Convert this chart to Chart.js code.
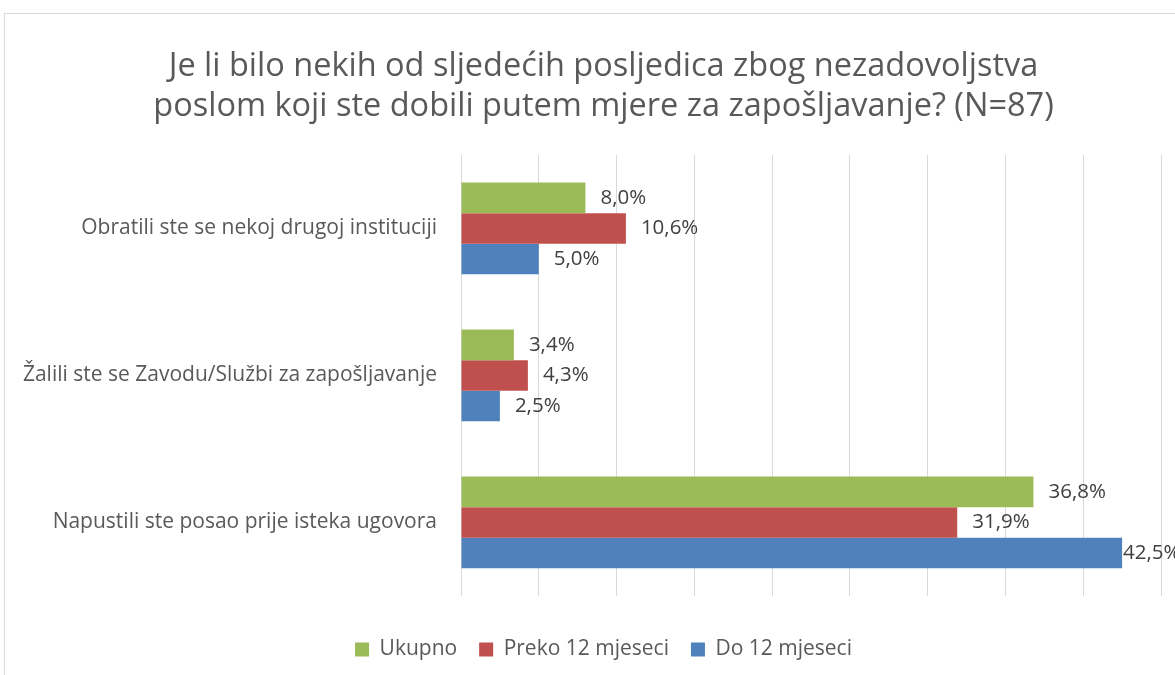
<!DOCTYPE html>
<html>
<head>
<meta charset="utf-8">
<script src="https://cdn.jsdelivr.net/npm/chart.js@4.4.1/dist/chart.umd.min.js"></script>
<style>
html,body{margin:0;padding:0;background:#fff;}
#wrap{width:1175px;height:675px;position:relative;}
</style>
</head>
<body>
<div id="wrap"><canvas id="c" width="1175" height="675"></canvas></div>
<script>
const titleLines = ["Je li bilo nekih od sljedećih posljedica zbog nezadovoljstva", "poslom koji ste dobili putem mjere za zapošljavanje? (N=87)"];
const categories = ["Obratili ste se nekoj drugoj instituciji", "Žalili ste se Zavodu/Službi za zapošljavanje", "Napustili ste posao prije isteka ugovora"];
const seriesNames = ["Ukupno", "Preko 12 mjeseci", "Do 12 mjeseci"];
const ukupno = [8.0, 3.4, 36.8];
const preko12 = [10.6, 4.3, 31.9];
const do12 = [5.0, 2.5, 42.5];
const colors = ["#9BBB59", "#C0504D", "#4F81BD"];

const FONT = "'Open Sans', 'Liberation Sans', sans-serif";
const TEXT = "#595959";

const frame = {
  id: 'frame',
  afterLayout(chart) {
    // centre title and legend on the full chart frame
    const shift = 23;
    [chart.legend, chart.titleBlock].forEach(b => {
      if (b) { b.left += shift; b.right += shift; }
    });
  },
  beforeDraw(chart) {
    const ctx = chart.ctx;
    ctx.save();
    ctx.fillStyle = '#fff';
    ctx.fillRect(0, 0, chart.width, chart.height);
    ctx.strokeStyle = '#D9D9D9';
    ctx.lineWidth = 1;
    ctx.strokeRect(4.5, 13.5, 1300, 800);
    ctx.restore();
  }
};

const valueLabels = {
  id: 'valueLabels',
  afterDatasetsDraw(chart) {
    const ctx = chart.ctx;
    ctx.save();
    ctx.font = "20.5px " + FONT;
    ctx.fillStyle = "#404040";
    ctx.textBaseline = 'middle';
    ctx.textAlign = 'left';
    chart.data.datasets.forEach((ds, i) => {
      const meta = chart.getDatasetMeta(i);
      meta.data.forEach((bar, j) => {
        const txt = ds.data[j].toFixed(1).replace('.', ',') + '%';
        const w = ctx.measureText(txt).width;
        let x = bar.x + 15;
        if (x + w > chart.width) x = bar.x + 1;
        ctx.fillText(txt, x, bar.y);
      });
    });
    ctx.restore();
  }
};

new Chart(document.getElementById('c'), {
  type: 'bar',
  data: {
    labels: categories,
    datasets: [
      { label: seriesNames[0], data: ukupno, backgroundColor: colors[0] },
      { label: seriesNames[1], data: preko12, backgroundColor: colors[1] },
      { label: seriesNames[2], data: do12, backgroundColor: colors[2] }
    ]
  },
  options: {
    indexAxis: 'y',
    responsive: false,
    animation: false,
    layout: { padding: { top: 0, left: 0, right: 14, bottom: 5 } },
    datasets: { bar: { categoryPercentage: 0.624, barPercentage: 1.0 } },
    scales: {
      x: {
        min: 0, max: 45,
        ticks: { display: false, stepSize: 5 },
        grid: { color: '#D9D9D9', lineWidth: 1, drawTicks: false },
        border: { display: false },
        afterFit(scale) { scale.height = 21; }
      },
      y: {
        ticks: { color: TEXT, font: { family: FONT, size: 21 }, padding: 24 },
        grid: { display: false, drawTicks: false },
        border: { display: false },
        afterFit(scale) { scale.width = 461; }
      }
    },
    plugins: {
      title: {
        display: true,
        text: titleLines,
        color: TEXT,
        font: { family: FONT, size: 32.5, weight: 'normal', lineHeight: 1.23 },
        padding: { top: 47, bottom: 28 }
      },
      legend: {
        position: 'bottom',
        labels: {
          color: TEXT,
          font: { family: FONT, size: 21 },
          boxWidth: 14, boxHeight: 14,
          padding: 22
        }
      },
      tooltip: { enabled: false }
    }
  },
  plugins: [frame, valueLabels]
});
</script>
</body>
</html>
